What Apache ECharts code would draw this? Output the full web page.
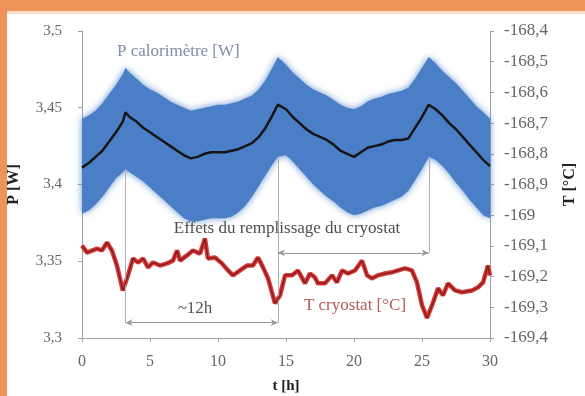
<!DOCTYPE html>
<html>
<head>
<meta charset="utf-8">
<script src="https://cdn.jsdelivr.net/npm/echarts@6/dist/echarts.min.js"></script>
<style>
  html, body { margin: 0; padding: 0; background: #ffffff; }
  #chart { width: 585px; height: 396px; }
</style>
</head>
<body>
<div id="chart"></div>
<script>
// Time axis (hours) shared by the calorimeter power series
const tPower = [0, 0.5, 1, 1.5, 2, 2.5, 3, 3.2, 3.5, 4, 4.5, 5, 5.5, 6, 6.5, 7, 7.5, 8, 8.5, 9, 9.5,
  10, 10.5, 11, 11.5, 12, 12.5, 13, 13.5, 14, 14.4, 15, 15.5, 16, 16.5, 17, 17.5, 18, 18.5, 19, 19.5,
  20, 20.5, 21, 21.5, 22, 22.5, 23, 23.5, 24, 24.5, 25, 25.5, 26, 26.5, 27, 27.5, 28, 28.5, 29, 29.5, 30];

// Smoothed calorimeter power [W]
const powerMean = [3.411, 3.414, 3.418, 3.422, 3.428, 3.434, 3.441, 3.447, 3.444, 3.441, 3.437, 3.434, 3.431,
  3.428, 3.425, 3.422, 3.419, 3.417, 3.418, 3.420, 3.421, 3.421, 3.421, 3.422, 3.423, 3.425, 3.427,
  3.431, 3.437, 3.445, 3.452, 3.449, 3.444, 3.440, 3.436, 3.433, 3.431, 3.429, 3.426, 3.422, 3.420,
  3.418, 3.421, 3.424, 3.425, 3.426, 3.428, 3.429, 3.429, 3.430, 3.437, 3.444, 3.452, 3.449, 3.445,
  3.440, 3.436, 3.431, 3.426, 3.421, 3.416, 3.412];

// Spread of the raw power readings: upper and lower envelope [W]
const powerHigh = [3.443, 3.445, 3.448, 3.453, 3.459, 3.465, 3.472, 3.476, 3.473, 3.469, 3.465, 3.462, 3.460,
  3.457, 3.454, 3.452, 3.450, 3.448, 3.449, 3.450, 3.451, 3.452, 3.452, 3.453, 3.454, 3.456, 3.458,
  3.462, 3.468, 3.476, 3.483, 3.478, 3.473, 3.469, 3.465, 3.462, 3.460, 3.458, 3.455, 3.452, 3.450,
  3.449, 3.451, 3.454, 3.456, 3.457, 3.459, 3.460, 3.461, 3.463, 3.469, 3.476, 3.483, 3.479, 3.474,
  3.470, 3.466, 3.461, 3.456, 3.451, 3.447, 3.443];
const powerLow = [3.381, 3.383, 3.387, 3.392, 3.398, 3.404, 3.408, 3.410, 3.408, 3.405, 3.402, 3.398, 3.394,
  3.390, 3.386, 3.382, 3.378, 3.376, 3.376, 3.377, 3.378, 3.378, 3.378, 3.379, 3.382, 3.386, 3.392,
  3.399, 3.406, 3.413, 3.418, 3.419, 3.415, 3.410, 3.405, 3.400, 3.396, 3.392, 3.389, 3.385, 3.382,
  3.380, 3.381, 3.383, 3.385, 3.386, 3.388, 3.390, 3.392, 3.396, 3.403, 3.410, 3.418, 3.416, 3.412,
  3.407, 3.401, 3.396, 3.390, 3.385, 3.380, 3.378];

// Cryostat temperature [°C]
const tTemp = [0, 0.37, 1.1, 1.47, 1.84, 2.2, 2.57, 3.0, 3.38, 3.75, 4.12, 4.49, 4.85, 5.22, 5.74, 6.25,
  6.69, 6.99, 7.21, 7.72, 8.16, 8.68, 9.04, 9.26, 9.78, 10.29, 10.74, 11.1, 11.62, 12.13, 12.57,
  12.94, 13.31, 13.68, 14.19, 14.56, 14.93, 15.44, 15.88, 16.4, 16.76, 17.13, 17.35, 17.87, 18.38,
  18.75, 19.12, 19.56, 20.07, 20.59, 20.96, 21.32, 21.76, 22.28, 22.79, 23.24, 23.75, 24.26, 24.63,
  25.0, 25.37, 25.74, 26.18, 26.54, 26.91, 27.43, 27.94, 28.68, 29.12, 29.49, 29.63, 29.85, 30.0];
const tempCryo = [-169.099, -169.122, -169.109, -169.115, -169.089, -169.115, -169.164, -169.245, -169.196,
  -169.141, -169.154, -169.141, -169.170, -169.154, -169.164, -169.157, -169.148, -169.115, -169.148,
  -169.131, -169.115, -169.125, -169.076, -169.141, -169.138, -169.157, -169.180, -169.196, -169.180,
  -169.164, -169.164, -169.138, -169.170, -169.206, -169.287, -169.261, -169.196, -169.196, -169.180,
  -169.222, -169.190, -169.203, -169.222, -169.222, -169.196, -169.219, -169.180, -169.190, -169.180,
  -169.148, -169.196, -169.206, -169.196, -169.190, -169.186, -169.180, -169.173, -169.180, -169.219,
  -169.293, -169.335, -169.293, -169.238, -169.261, -169.222, -169.245, -169.251, -169.245, -169.235,
  -169.219, -169.222, -169.164, -169.196];

// Tick labels
const leftTickLabels = ['3,3', '3,35', '3,4', '3,45', '3,5'];
const rightTickLabels = ['-169,4', '-169,3', '-169,2', '-169,1', '-169', '-168,9', '-168,8', '-168,7',
  '-168,6', '-168,5', '-168,4'];

// Refill events: time, foot of the power spread there, and levels of the guide arrows
const refillTimes = [3.2, 14.4, 25.5];
const refillFoot = [3.410, 3.418, 3.418];
const periodArrowLevel = 3.310;
const effectArrowLevel = 3.3555;

const SERIF = '"Liberation Serif", "DejaVu Serif", serif';

const chart = echarts.init(document.getElementById('chart'), null, { renderer: 'canvas' });

const option = {
  animation: false,
  backgroundColor: '#ffffff',
  grid: { left: 82, right: 95, top: 31, bottom: 58, containLabel: false, outerBoundsMode: 'none' },
  xAxis: {
    type: 'value', min: 0, max: 30, interval: 5,
    name: 't [h]', nameLocation: 'middle', nameGap: 41,
    nameTextStyle: { fontFamily: SERIF, fontWeight: 'bold', fontSize: 15, color: '#222' },
    axisLine: { lineStyle: { color: '#a0a0a0', width: 1 } },
    axisTick: { show: true, length: 4, lineStyle: { color: '#a0a0a0' } },
    axisLabel: { fontFamily: SERIF, fontSize: 16, color: '#666', margin: 16 },
    splitLine: { show: false }
  },
  yAxis: [
    {
      type: 'value', min: 3.3, max: 3.5, interval: 0.05, position: 'left',
      name: 'P [W]', nameLocation: 'middle', nameGap: 60, nameRotate: 90,
      nameTextStyle: { fontFamily: SERIF, fontWeight: 'bold', fontSize: 16, color: '#222' },
      axisLine: { show: true, lineStyle: { color: '#a0a0a0', width: 1 } },
      axisTick: { show: true, length: 4, lineStyle: { color: '#a0a0a0' } },
      axisLabel: {
        fontFamily: SERIF, fontSize: 15, color: '#666', margin: 20,
        formatter: v => leftTickLabels[Math.round((v - 3.3) / 0.05)]
      },
      splitLine: { show: false }
    },
    {
      type: 'value', min: -169.4, max: -168.4, interval: 0.1, position: 'right',
      name: 'T [°C]', nameLocation: 'middle', nameGap: 72, nameRotate: 90,
      nameTextStyle: { fontFamily: SERIF, fontWeight: 'bold', fontSize: 16, color: '#222' },
      axisLine: { show: true, lineStyle: { color: '#a0a0a0', width: 1 } },
      axisTick: { show: true, length: 4, lineStyle: { color: '#a0a0a0' } },
      axisLabel: {
        fontFamily: SERIF, fontSize: 17, color: '#666', margin: 14,
        formatter: v => rightTickLabels[Math.round((v + 169.4) / 0.1)]
      },
      splitLine: { show: false }
    }
  ],
  series: [
    {
      // guide lines marking each refill
      type: 'line', yAxisIndex: 0, data: [], z: 1, silent: true,
      markLine: {
        silent: true, symbol: ['none', 'none'], animation: false,
        label: { show: false },
        lineStyle: { color: '#b0b0b0', width: 1, type: 'solid' },
        data: [
          [{ coord: [refillTimes[0], refillFoot[0]] }, { coord: [refillTimes[0], periodArrowLevel] }],
          [{ coord: [refillTimes[1], refillFoot[1]] }, { coord: [refillTimes[1], periodArrowLevel] }],
          [{ coord: [refillTimes[2], refillFoot[2]] }, { coord: [refillTimes[2], effectArrowLevel] }]
        ]
      }
    },
    {
      // double arrows: refill period and refill effect
      type: 'line', yAxisIndex: 0, data: [], z: 1, silent: true,
      markLine: {
        silent: true, symbol: ['arrow', 'arrow'], symbolSize: [5, 7], animation: false,
        label: { show: false },
        lineStyle: { color: '#999999', width: 1, type: 'solid' },
        data: [
          [{ coord: [refillTimes[0], periodArrowLevel] }, { coord: [refillTimes[1], periodArrowLevel] }],
          [{ coord: [refillTimes[1], effectArrowLevel] }, { coord: [refillTimes[2], effectArrowLevel] }]
        ]
      }
    },
    {
      // raw calorimeter power spread
      type: 'custom', yAxisIndex: 0, z: 2, silent: true,
      data: tPower.map((t, i) => [t, powerHigh[i], powerLow[i]]),
      encode: { x: 0, y: [1, 2] },
      renderItem: function (params, api) {
        if (params.dataIndex !== 0) return null;
        const pts = [];
        for (let i = 0; i < tPower.length; i++) pts.push(api.coord([tPower[i], powerHigh[i]]));
        for (let i = tPower.length - 1; i >= 0; i--) pts.push(api.coord([tPower[i], powerLow[i]]));
        return {
          type: 'polygon',
          shape: { points: pts },
          style: { fill: '#4a7fc8', shadowBlur: 7, shadowColor: 'rgba(74,127,200,0.85)' }
        };
      }
    },
    {
      name: 'P calorimètre [W]',
      type: 'line', yAxisIndex: 0, z: 3, silent: true,
      data: tPower.map((t, i) => [t, powerMean[i]]),
      symbol: 'none',
      lineStyle: { color: '#151515', width: 2.5 }
    },
    {
      name: 'T cryostat [°C]',
      type: 'line', yAxisIndex: 1, z: 4, silent: true,
      data: tTemp.map((t, i) => [t, tempCryo[i]]),
      symbol: 'none',
      lineStyle: { color: '#d93a3a', width: 4.5 }
    },
    {
      type: 'line', yAxisIndex: 1, z: 5, silent: true,
      data: tTemp.map((t, i) => [t, tempCryo[i]]),
      symbol: 'none',
      lineStyle: { color: '#8a1c1c', width: 1.5 }
    }
  ],
  graphic: [
    { type: 'rect', left: 0, top: 0, shape: { width: 585, height: 11 }, style: { fill: '#ee9458' }, z: 100 },
    { type: 'rect', left: 0, top: 11, shape: { width: 585, height: 3 }, style: { fill: '#fae0cc' }, z: 100 },
    { type: 'rect', left: 0, top: 0, shape: { width: 7, height: 396 }, style: { fill: '#ee9458' }, z: 100 },
    {
      type: 'text', x: 117, y: 52, z: 50,
      style: { text: 'P calorimètre [W]', font: '17px ' + SERIF, fill: '#7f8ea8', align: 'left', verticalAlign: 'middle' }
    },
    {
      type: 'text', x: 287, y: 229, z: 50,
      style: { text: 'Effets du remplissage du cryostat', font: '17px ' + SERIF, fill: '#4f4f4f', align: 'center', verticalAlign: 'middle' }
    },
    {
      type: 'text', x: 195, y: 309, z: 50,
      style: { text: '~12h', font: '17px ' + SERIF, fill: '#555555', align: 'center', verticalAlign: 'middle' }
    },
    {
      type: 'text', x: 355, y: 306, z: 50,
      style: { text: 'T cryostat [°C]', font: '17px ' + SERIF, fill: '#b35a5a', align: 'center', verticalAlign: 'middle' }
    }
  ]
};

chart.setOption(option);
</script>
</body>
</html>
